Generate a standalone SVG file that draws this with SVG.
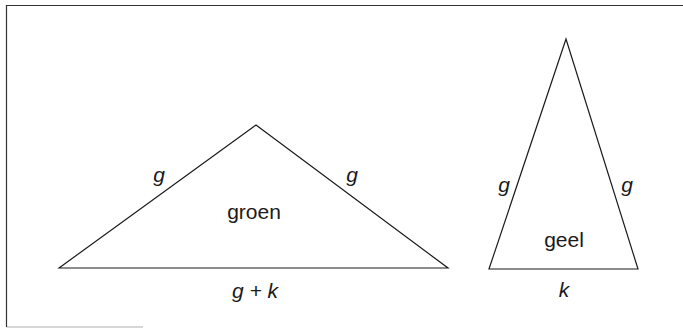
<svg xmlns="http://www.w3.org/2000/svg" width="683" height="329" viewBox="0 0 683 329">
<style>
.edge{fill:none;stroke:#1a1a1a;stroke-width:1.2;stroke-linejoin:miter}
.frame{fill:none;stroke:#333;stroke-width:1.2}
.lbl{font-family:"Liberation Sans",Arial,sans-serif;font-size:21px;fill:#1a1a1a;text-anchor:middle}
.it{font-style:italic}
</style>
<rect width="683" height="329" fill="#fff"/>
<g id="frame">
<polyline class="frame" points="683,5.5 6.5,5.5 6.5,327"/>
<line class="frame" x1="6.5" y1="327" x2="143" y2="327" stroke-opacity="0.4"/>
</g>
<g id="connectors">
<polygon class="edge" points="59,268 256,125 448,268"/>
<polygon class="edge" points="566,39 489,269 638,269"/>
</g>
<g id="groen">
<text class="lbl" x="254" y="219">groen</text>
<text class="lbl it" x="159" y="182">g</text>
<text class="lbl it" x="352" y="182">g</text>
<text class="lbl it" x="255" y="298">g + k</text>
</g>
<g id="geel">
<text class="lbl" x="564" y="247">geel</text>
<text class="lbl it" x="504" y="192">g</text>
<text class="lbl it" x="627" y="192">g</text>
<text class="lbl it" x="564" y="297">k</text>
</g>
</svg>
